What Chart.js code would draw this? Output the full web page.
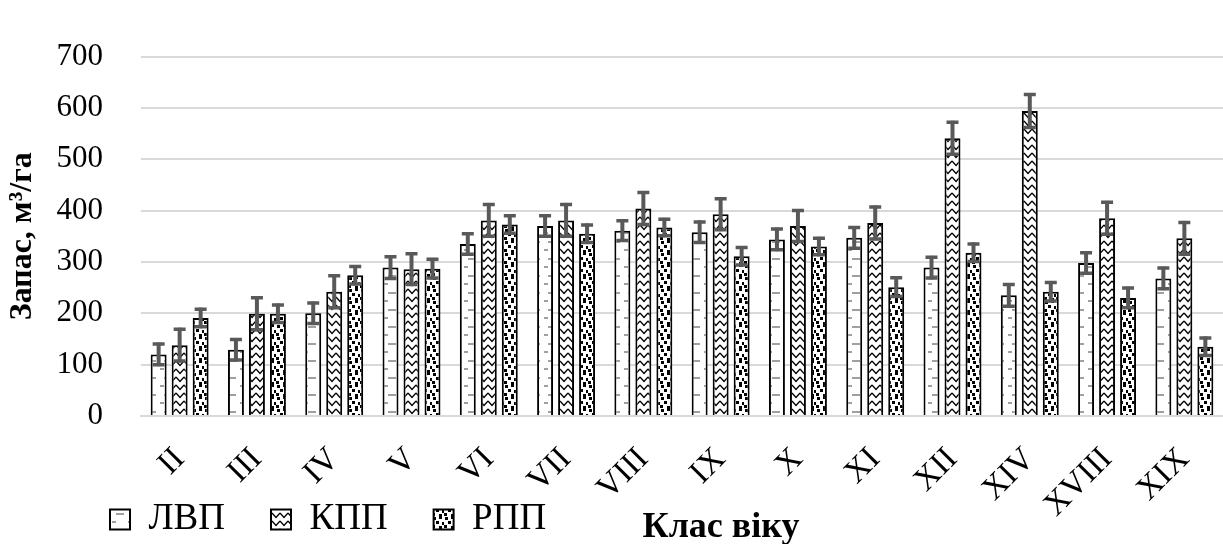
<!DOCTYPE html>
<html>
<head>
<meta charset="utf-8">
<script src="https://cdn.jsdelivr.net/npm/chart.js@4.4.1/dist/chart.umd.min.js"></script>
<style>
html,body{margin:0;padding:0;background:#fff;}
#wrap{width:1223px;height:544px;}
</style>
</head>
<body>
<div id="wrap"><canvas id="c" width="1223" height="544"></canvas></div>
<script>
const categories = ['II','III','IV','V','VI','VII','VIII','IX','X','XI','XII','XIV','XVIII','XIX'];
const seriesNames = ['ЛВП','КПП','РПП'];
const lvp = [120,129,200,289,335,370,361,358,344,347,289,235,298,268];
const kpp = [138,199,242,286,381,381,404,393,370,376,541,594,385,346];
const rpp = [191,199,274,287,373,355,367,311,330,251,318,242,230,135];
const lvpErr = [23,23,23,24,23,23,22,23,23,23,23,24,23,23];
const kppErr = [34,34,34,33,34,34,34,33,33,34,34,35,34,34];
const rppErr = [20,20,20,21,20,20,19,20,19,21,20,21,22,20];
const yTicks = [0,100,200,300,400,500,600,700];

const FONT = "'Liberation Serif','Times New Roman',serif";

function tile(w,h,draw){
  const c=document.createElement('canvas');c.width=w;c.height=h;
  const x=c.getContext('2d');x.fillStyle='#fff';x.fillRect(0,0,w,h);draw(x);
  return document.getElementById('c').getContext('2d').createPattern(c,'repeat');
}
const patLVP = tile(16,17,x=>{
  x.fillStyle='#a0a0a0';
  x.fillRect(4,3,8,2);
  x.fillRect(0,11,4,2);
});
const patKPP = tile(8,8,x=>{
  x.strokeStyle='#000';x.lineWidth=1.3;
  x.beginPath();x.moveTo(0,1);x.lineTo(4,5.5);x.lineTo(8,1);x.stroke();
});
const patRPP = tile(12,12,x=>{
  x.fillStyle='#000';
  x.fillRect(1,1,3,3);x.fillRect(7,0,3,3);x.fillRect(4,5,3,3);
  x.fillRect(10,6,2,3);x.fillRect(0,9,3,3);x.fillRect(7,10,3,2);
});

const errs=[lvpErr,kppErr,rppErr];
const errorBars={
  id:'errorBars',
  afterDatasetsDraw(chart){
    const ctx=chart.ctx, y=chart.scales.y;
    ctx.save();
    ctx.strokeStyle='#595959';
    chart.data.datasets.forEach((ds,di)=>{
      const meta=chart.getDatasetMeta(di);
      meta.data.forEach((el,i)=>{
        const v=ds.data[i], e=errs[di][i];
        const yt=y.getPixelForValue(v+e), yb=y.getPixelForValue(v-e);
        ctx.lineWidth=4;
        ctx.beginPath();ctx.moveTo(el.x,yt);ctx.lineTo(el.x,yb);ctx.stroke();
        ctx.lineWidth=3.5;
        ctx.beginPath();
        ctx.moveTo(el.x-6,yt+1.5);ctx.lineTo(el.x+6,yt+1.5);
        ctx.moveTo(el.x-6,yb-1.5);ctx.lineTo(el.x+6,yb-1.5);
        ctx.stroke();
      });
    });
    ctx.restore();
  }
};
const placeLegend={
  id:'placeLegend',
  afterLayout(chart){
    const lg=chart.legend;
    lg.left=64; lg.right=1223; lg.top=455; lg.bottom=544; lg.height=89; lg.width=1159;
  },
  afterDraw(chart){
    const ctx=chart.ctx;
    ctx.save();
    ctx.font="bold 36px "+FONT;
    ctx.fillStyle='#000';ctx.textAlign='center';ctx.textBaseline='middle';
    ctx.fillText('Клас віку',721,528);
    ctx.restore();
  }
};

const mk=(label,data,pat)=>({label,data,backgroundColor:pat,borderColor:'#000',borderWidth:2,
  categoryPercentage:0.815,barPercentage:0.76});

new Chart(document.getElementById('c'),{
  type:'bar',
  data:{labels:categories,datasets:[mk(seriesNames[0],lvp,patLVP),mk(seriesNames[1],kpp,patKPP),mk(seriesNames[2],rpp,patRPP)]},
  plugins:[errorBars,placeLegend],
  options:{
    responsive:false,animation:false,devicePixelRatio:1,
    layout:{padding:{top:28,right:-3,bottom:0,left:0}},
    plugins:{
      tooltip:{enabled:false},
      legend:{position:'bottom',align:'start',maxHeight:1,
        labels:{font:{family:FONT,size:37},color:'#000',boxWidth:20,boxHeight:20,padding:46}}
    },
    scales:{
      x:{
        grid:{display:false,drawTicks:false},
        border:{display:true,color:'#d9d9d9',width:2},
        ticks:{font:{family:FONT,size:33},color:'#000',maxRotation:45,minRotation:45,padding:24,autoSkip:false},
        afterFit(s){s.height=127;s.paddingLeft=0;s.paddingRight=0;}
      },
      y:{
        min:0,max:700,
        afterBuildTicks(s){s.ticks=yTicks.map(v=>({value:v}));},
        grid:{color:'#d9d9d9',lineWidth:2,drawTicks:false},
        border:{display:false},
        ticks:{font:{family:FONT,size:31},color:'#000',padding:38},
        title:{display:true,text:'Запас, м³/га',font:{family:FONT,size:32,weight:'bold'},color:'#000',padding:{top:4,bottom:0}},
        afterFit(s){s.width=141;}
      }
    }
  }
});
</script>
</body>
</html>
